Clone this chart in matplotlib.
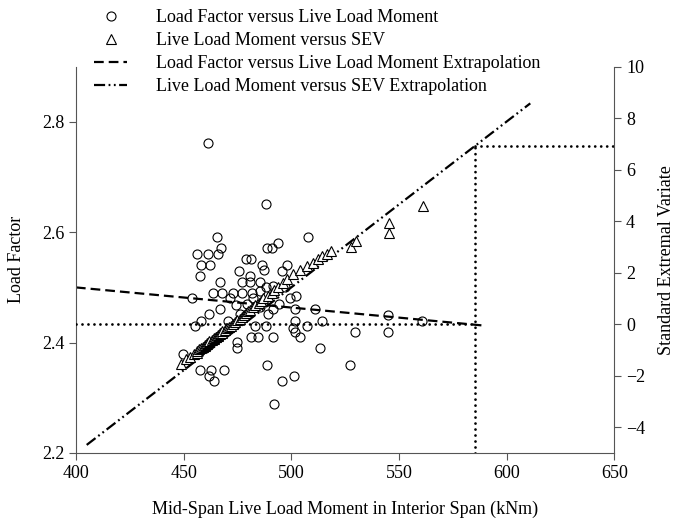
import matplotlib
matplotlib.use('Agg')
import matplotlib.pyplot as plt
from matplotlib.lines import Line2D

plt.rcParams['font.family'] = ['Liberation Serif', 'DejaVu Serif']
plt.rcParams['font.size'] = 13
plt.rcParams['lines.scale_dashes'] = False

# Load factor vs live load moment (left axis)
lf_moment = [461.1, 488.4, 465.5, 507.6, 467.3, 488.9, 491.2, 493.7, 456.1, 461.5,
             466.2, 458.3, 462.2, 457.7, 478.8, 481.5, 486.6, 487.5, 475.5, 481.0,
             497.9, 495.8, 466.8, 476.9, 481.0, 485.7, 491.5, 463.7, 468.0, 473.0,
             477.3, 481.6, 485.3, 488.4, 502.3, 453.9, 466.8, 471.4, 474.5, 482.2,
             491.5, 489.2, 501.6, 499.3, 510.8, 461.7, 458.0, 455.5, 470.6, 476.1,
             483.0, 488.4, 501.6, 500.8, 501.6, 507.4, 514.4, 529.7, 481.5, 484.6,
             491.5, 503.9, 474.8, 475.0, 513.2, 449.5, 488.7, 527.4, 457.5, 462.9,
             468.6, 461.7, 464.1, 501.1, 495.9, 492.0, 544.9, 544.9, 560.8, 479.5,
             485.5, 494.5, 497.0]
lf_value = [2.761, 2.651, 2.591, 2.591, 2.571, 2.571, 2.571, 2.580, 2.560, 2.560,
            2.560, 2.541, 2.541, 2.521, 2.551, 2.551, 2.541, 2.531, 2.530, 2.520,
            2.541, 2.530, 2.510, 2.510, 2.510, 2.510, 2.502, 2.490, 2.490, 2.490,
            2.490, 2.490, 2.493, 2.500, 2.484, 2.480, 2.460, 2.481, 2.469, 2.481,
            2.460, 2.451, 2.460, 2.480, 2.460, 2.451, 2.439, 2.430, 2.440, 2.451,
            2.430, 2.430, 2.439, 2.427, 2.420, 2.430, 2.440, 2.420, 2.410, 2.410,
            2.410, 2.410, 2.401, 2.390, 2.390, 2.380, 2.360, 2.360, 2.350, 2.350,
            2.350, 2.339, 2.330, 2.339, 2.330, 2.289, 2.450, 2.420, 2.440, 2.470,
            2.465, 2.470, 2.500]

# Live load moment vs SEV (right axis)
sev_moment = [449, 451, 453, 455, 456, 456, 457, 458, 459, 460,
              460, 461, 461, 462, 462, 463, 464, 464, 465, 465,
              466, 466, 467, 467, 468, 468, 469, 470, 471, 472,
              473, 474, 475, 476, 477, 478, 479, 480, 481, 482,
              483, 485, 486, 487, 489, 491, 492, 494, 496, 498,
              501, 504, 507.5, 510, 512.4, 514.4, 516.6, 518.6, 527.6, 529.9,
              545.2, 545.2, 561]
sev_value = [-1.53, -1.37, -1.26, -1.17, -1.10, -1.04, -0.98, -0.93, -0.88, -0.84,
             -0.80, -0.76, -0.72, -0.68, -0.65, -0.61, -0.58, -0.55, -0.51, -0.48,
             -0.45, -0.42, -0.39, -0.36, -0.33, -0.28, -0.22, -0.16, -0.11, -0.06,
             0.00, 0.08, 0.15, 0.21, 0.28, 0.35, 0.43, 0.50, 0.57, 0.65,
             0.73, 0.82, 0.91, 1.00, 1.10, 1.21, 1.33, 1.46, 1.60, 1.76,
             1.94, 2.09, 2.26, 2.39, 2.52, 2.65, 2.71, 2.84, 3.00, 3.23,
             3.53, 3.95, 4.61]

# Extrapolation lines
lf_fit_x = [400, 589]
lf_fit_y = [2.500, 2.431]
sev_fit_x = [405, 611]
sev_fit_y = [-4.69, 8.58]

# Design point guides
design_moment = 585.5
design_sev = 6.93

spine_col = '#555555'
fig = plt.figure(figsize=(6.78, 5.26), dpi=100)
ax1 = fig.add_axes([0.112, 0.139, 0.794, 0.734])
ax2 = ax1.twinx()

ax1.plot(lf_moment, lf_value, 'o', ms=6.5, mfc='none', mec='black', mew=0.8)
ax1.plot(lf_fit_x, lf_fit_y, color='black', lw=1.6, dashes=(7, 3.6))

dot = dict(color='black', lw=2.0, dashes=(0.01, 4.3), dash_capstyle='round')
ax2.plot([400, design_moment], [0, 0], **dot)
ax2.plot([design_moment, design_moment], [-5, design_sev], **dot)
ax2.plot([design_moment, 650], [design_sev, design_sev], **dot)
ax2.plot(sev_fit_x, sev_fit_y, color='black', lw=1.6,
         dashes=(8, 2.5, 1.3, 2.5, 1.3, 2.5))
ax2.plot(sev_moment, sev_value, '^', ms=6.5, mfc='white', mec='black', mew=0.8)

ax1.set_xlim(400, 650)
ax1.set_ylim(2.2, 2.9)
ax2.set_ylim(-5, 10)
ax1.set_xticks([400, 450, 500, 550, 600, 650])
ax1.set_yticks([2.2, 2.4, 2.6, 2.8])
ax2.set_yticks([-4, -2, 0, 2, 4, 6, 8, 10])

for ax in (ax1, ax2):
    ax.spines['top'].set_visible(False)
    for s in ax.spines.values():
        s.set_color(spine_col)
    ax.tick_params(direction='out', length=5, color=spine_col, labelsize=13)
ax1.spines['right'].set_visible(False)
ax2.spines['left'].set_visible(False)
ax2.spines['bottom'].set_visible(False)

ax1.set_xlabel('Mid-Span Live Load Moment in Interior Span (kNm)', fontsize=13, labelpad=14)
ax1.set_ylabel('Load Factor', fontsize=13, labelpad=12)
ax2.set_ylabel('Standard Extremal Variate', fontsize=13, labelpad=9)

handles = [
    Line2D([], [], ls='none', marker='o', ms=6.5, mfc='none', mec='black', mew=0.8),
    Line2D([], [], ls='none', marker='^', ms=6.5, mfc='white', mec='black', mew=0.8),
    Line2D([], [], color='black', lw=1.6, dashes=(7, 3.6)),
    Line2D([], [], color='black', lw=1.6, dashes=(8, 2.5, 1.3, 2.5, 1.3, 2.5)),
]
labels = ['Load Factor versus Live Load Moment',
          'Live Load Moment versus SEV',
          'Load Factor versus Live Load Moment Extrapolation',
          'Live Load Moment versus SEV Extrapolation']
fig.legend(handles, labels, loc='upper left', bbox_to_anchor=(94 / 678, 1 - 9 / 526),
           frameon=False, fontsize=13, handlelength=1.85, handletextpad=1.6,
           labelspacing=0.33, borderpad=0, borderaxespad=0, numpoints=1)

fig.savefig('out.png', dpi=100)
